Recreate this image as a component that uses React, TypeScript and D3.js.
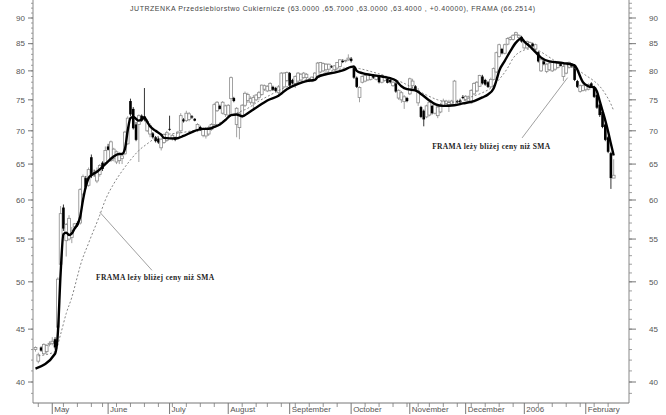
import React from "react";
import * as d3 from "d3";

const W = 666;
const H = 415;

const titleText =
  "JUTRZENKA Przedsiebiorstwo Cukiernicze (63.0000 ,65.7000 ,63.0000 ,63.4000 , +0.40000), FRAMA (66.2514)";
const noteText = "FRAMA leży bliżej ceny niż SMA";

const monthLabels = ["May", "June", "July", "August", "September", "October", "November", "December", "2006", "February"];
const yMajor = [40, 45, 50, 55, 60, 65, 70, 75, 80, 85, 90];
const yMinorFrom = 39;
const yMinorTo = 93;

const openP = [
  43.0, 41.9, 43.2, 42.6, 42.8, 43.5, 43.6, 44.0, 45.2, 52.0,
  59.0, 54.8, 55.0, 55.2, 56.5, 57.0, 57.0, 60.8, 63.0, 62.0,
  66.0, 63.8, 62.6, 63.5, 65.2, 65.2, 67.6, 65.5, 65.8, 65.3,
  65.5, 65.8, 66.5, 68.0, 74.8, 73.5, 71.0, 71.0, 72.4, 72.3,
  70.0, 69.5, 69.6, 69.0, 68.8, 67.4, 68.2, 68.5, 70.3, 68.8,
  69.0, 68.8, 70.0, 71.8, 71.6, 71.8, 72.3, 71.9, 70.0, 70.6,
  69.3, 69.2, 69.5, 70.2, 71.0, 73.2, 74.0, 72.8, 72.6, 72.5,
  75.2, 75.3, 71.0, 70.5, 72.4, 74.1, 74.9, 74.6, 74.5, 75.0,
  75.4, 75.9, 76.8, 76.5, 76.6, 77.2, 77.0, 76.2, 76.0, 77.2,
  78.3, 79.6, 78.4, 77.8, 78.2, 78.4, 78.8, 78.8, 78.4, 78.2,
  78.5, 78.8, 79.8, 80.0, 80.2, 80.3, 80.8, 80.2, 80.5, 80.8,
  81.8, 81.8, 82.0, 82.2, 80.5, 78.8, 75.4, 78.0, 78.2, 78.4,
  78.5, 79.2, 78.5, 79.0, 78.0, 78.3, 78.6, 78.4, 77.4, 77.8,
  75.3, 75.0, 74.7, 75.3, 76.0, 77.4, 77.3, 74.5, 73.8, 73.2,
  72.2, 72.5, 74.0, 72.8, 72.4, 73.0, 74.0, 74.4, 74.2, 74.3,
  74.2, 74.8, 74.9, 75.5, 75.0, 74.8, 74.5, 76.0, 76.5, 77.3,
  79.0, 78.4, 78.0, 77.2, 78.5, 79.8, 82.6, 84.0, 83.2, 84.9,
  85.8, 85.8, 86.7, 86.2, 86.3, 84.2, 84.2, 84.6, 85.0, 84.0,
  83.4, 80.0, 81.7, 79.9, 80.2, 80.0, 80.3, 80.6, 81.2, 79.0,
  79.6, 80.6, 81.2, 81.0, 78.2, 76.4, 76.6, 76.7, 76.8, 77.8,
  77.2, 75.8, 74.2, 73.0, 71.0, 69.0, 66.6, 63.0,
];
const highP = [
  43.3, 42.7, 43.3, 43.6, 43.5, 43.8, 44.2, 44.2, 50.5, 59.2,
  59.4, 57.0, 58.0, 56.5, 57.0, 57.2, 61.6, 63.5, 63.3, 64.5,
  66.4, 64.2, 64.5, 65.0, 65.4, 67.6, 68.0, 68.5, 67.4, 67.0,
  66.7, 66.5, 70.0, 72.3, 75.2, 73.8, 71.4, 72.6, 72.6, 77.0,
  71.8, 71.2, 69.8, 69.2, 69.0, 68.9, 69.6, 70.0, 72.4, 69.5,
  69.1, 70.0, 72.8, 72.0, 73.2, 73.0, 72.5, 72.0, 71.2, 70.8,
  70.5, 70.6, 70.8, 71.2, 74.5, 74.8, 74.2, 74.8, 74.2, 74.3,
  79.0, 75.5, 73.8, 73.0, 74.3, 76.4, 76.2, 75.6, 75.8, 76.0,
  76.5, 77.6, 77.6, 77.5, 78.0, 77.4, 77.2, 77.5, 79.8, 79.8,
  79.9, 79.8, 78.6, 79.2, 79.8, 79.6, 79.8, 79.6, 78.8, 79.0,
  79.8, 81.6, 81.6, 81.5, 81.4, 81.3, 81.0, 81.0, 81.6, 82.1,
  82.1, 82.0, 83.0, 82.5, 80.8, 79.0, 77.3, 79.2, 79.5, 79.4,
  79.5, 79.4, 79.2, 79.2, 79.4, 79.0, 78.8, 78.6, 78.2, 78.0,
  76.8, 76.5, 75.8, 75.5, 78.8, 78.6, 77.5, 77.0, 74.0, 73.4,
  74.2, 74.8, 74.2, 74.6, 74.0, 74.5, 75.2, 75.0, 75.0, 75.0,
  78.4, 75.0, 75.2, 75.8, 75.8, 75.7, 76.8, 78.0, 78.2, 79.3,
  79.3, 78.6, 78.2, 78.8, 80.6, 83.5, 85.0, 84.2, 85.0, 86.2,
  86.4, 86.8, 87.3, 86.8, 86.5, 85.6, 85.6, 85.4, 85.2, 85.0,
  83.6, 82.2, 82.0, 81.4, 81.6, 81.6, 81.8, 81.8, 81.4, 81.2,
  81.5, 81.7, 81.4, 81.2, 78.4, 77.6, 77.6, 77.8, 77.8, 78.0,
  77.4, 76.0, 74.4, 73.2, 71.2, 69.2, 66.8, 65.7,
];
const lowP = [
  42.8, 41.7, 42.8, 42.5, 42.6, 43.3, 43.4, 43.0, 45.0, 51.8,
  56.0, 52.9, 54.8, 54.5, 56.2, 56.5, 56.8, 60.5, 61.5, 61.8,
  63.0, 63.2, 62.3, 63.2, 64.0, 65.0, 67.0, 65.3, 65.4, 65.0,
  65.0, 65.0, 66.3, 67.8, 72.3, 70.2, 68.4, 65.3, 71.4, 71.5,
  69.8, 69.0, 68.8, 68.2, 68.0, 67.0, 68.0, 68.3, 70.0, 68.5,
  68.4, 68.6, 69.6, 71.3, 71.4, 71.5, 71.9, 71.5, 69.8, 70.0,
  69.0, 68.8, 69.2, 70.0, 70.8, 73.0, 73.4, 72.6, 72.2, 72.0,
  72.5, 74.6, 69.0, 68.7, 72.0, 73.8, 74.5, 74.2, 73.2, 74.8,
  75.0, 75.7, 76.5, 76.3, 76.4, 76.5, 76.3, 75.8, 75.8, 77.0,
  78.0, 77.2, 77.6, 77.0, 78.0, 78.2, 78.6, 78.0, 78.0, 78.0,
  78.2, 78.6, 79.6, 79.8, 79.5, 80.0, 80.5, 80.0, 80.2, 80.6,
  81.4, 81.5, 81.8, 81.5, 78.6, 77.0, 74.6, 77.8, 78.0, 78.2,
  78.3, 78.6, 78.3, 77.8, 77.8, 78.1, 77.8, 77.8, 77.2, 76.2,
  75.0, 74.5, 73.5, 74.6, 75.8, 77.0, 76.4, 74.0, 72.0, 70.7,
  72.0, 72.3, 72.6, 72.6, 72.0, 72.8, 73.8, 74.2, 73.0, 74.1,
  74.0, 74.4, 74.4, 75.1, 74.8, 74.6, 74.3, 75.8, 76.3, 77.2,
  77.6, 77.4, 77.0, 77.0, 78.3, 79.6, 82.4, 83.0, 83.0, 84.7,
  85.6, 85.6, 86.5, 85.8, 85.2, 84.0, 84.0, 84.3, 84.4, 83.7,
  81.5, 79.8, 81.0, 79.6, 80.0, 79.8, 80.0, 80.4, 80.8, 78.2,
  79.4, 80.4, 80.6, 78.2, 77.0, 76.2, 76.4, 76.4, 76.6, 77.0,
  75.3, 73.5, 72.2, 70.4, 68.4, 66.6, 61.5, 63.0,
];
const closeP = [
  43.2, 42.5, 42.9, 43.5, 43.4, 43.6, 43.8, 43.2, 50.3, 58.2,
  56.3, 56.8, 57.6, 56.0, 56.9, 56.7, 61.4, 63.2, 61.8, 64.2,
  63.4, 63.6, 64.0, 64.8, 64.3, 67.0, 67.1, 68.3, 67.2, 66.8,
  66.3, 66.2, 69.8, 72.0, 72.6, 70.4, 68.6, 72.4, 71.6, 71.8,
  71.5, 70.8, 69.0, 68.4, 68.2, 68.7, 69.4, 69.7, 70.2, 69.3,
  68.6, 69.8, 72.4, 71.5, 72.8, 72.7, 72.1, 71.6, 71.0, 70.1,
  70.3, 70.2, 70.5, 71.0, 74.2, 74.6, 73.5, 74.6, 74.0, 74.1,
  78.8, 74.8, 73.6, 72.8, 74.1, 76.1, 75.9, 75.2, 75.4, 75.8,
  76.2, 77.5, 77.4, 77.3, 77.8, 76.7, 76.5, 77.2, 79.6, 79.6,
  79.7, 77.4, 77.8, 79.0, 79.6, 79.4, 79.6, 79.4, 78.5, 78.9,
  79.6, 81.4, 81.5, 81.3, 81.2, 81.2, 80.7, 80.9, 81.5, 82.0,
  81.6, 81.9, 82.3, 81.8, 78.8, 77.2, 77.1, 79.0, 79.2, 79.3,
  79.3, 78.8, 79.0, 78.0, 79.2, 78.8, 77.9, 78.0, 78.0, 76.4,
  76.6, 76.2, 75.5, 74.8, 78.6, 78.2, 76.6, 76.5, 72.2, 71.8,
  74.0, 74.6, 72.8, 74.2, 73.8, 74.2, 74.8, 74.8, 74.6, 74.8,
  78.2, 74.6, 74.6, 75.3, 75.6, 75.5, 76.6, 77.8, 78.0, 79.2,
  77.8, 77.6, 77.2, 78.5, 80.4, 83.3, 84.8, 83.2, 84.8, 86.0,
  86.2, 86.6, 87.1, 86.6, 85.4, 85.4, 85.4, 85.2, 84.5, 84.8,
  81.7, 82.0, 81.2, 81.2, 81.4, 81.5, 81.6, 81.6, 80.9, 80.8,
  81.3, 81.5, 80.8, 78.4, 77.2, 77.4, 77.4, 77.6, 77.6, 77.2,
  75.5, 73.7, 72.5, 70.6, 68.6, 66.8, 63.0, 63.4,
];

const framaIdx = [
  0, 7, 8, 9, 10, 11, 12, 13, 14, 15, 16, 17, 18, 19, 20, 22, 24, 26, 28, 30,
  31, 32, 33, 34, 35, 37, 38, 39, 40, 41, 43, 45, 46, 50, 53, 56, 60, 62, 64, 66,
  68, 70, 72, 74, 76, 78, 80, 83, 87, 90, 94, 97, 100, 101, 104, 107, 110, 113, 114, 115,
  117, 120, 124, 127, 129, 131, 133, 136, 138, 141, 143, 146, 150, 153, 157, 160, 162, 164, 165, 166,
  168, 170, 172, 174, 175, 177, 179, 181, 184, 189, 193, 194, 195, 196, 198, 200, 201, 202, 203, 204,
  205, 206, 207,
];
const framaVal = [
  41.2, 42.6, 44.6, 51.0, 55.6, 55.8, 55.5, 55.7, 56.3, 56.8, 57.8, 60.0, 61.8, 63.0, 63.4, 63.9, 64.6, 65.4, 66.1, 66.5,
  66.5, 67.2, 70.0, 72.0, 72.2, 71.6, 71.8, 72.1, 71.4, 70.7, 70.0, 69.4, 68.9, 68.8, 69.2, 69.8, 70.3, 70.3, 70.6, 71.0,
  71.7, 72.5, 72.6, 72.3, 72.8, 73.4, 74.0, 74.9, 75.7, 76.8, 77.7, 78.2, 78.4, 78.9, 79.4, 79.7, 80.1, 80.7, 80.8, 80.0,
  79.6, 79.3, 79.0, 78.7, 78.3, 77.3, 76.8, 76.6, 76.0, 74.9, 74.3, 74.0, 74.1, 74.4, 74.8, 75.4, 75.9, 76.9, 78.3, 80.0,
  81.8, 83.6, 85.2, 86.0, 85.4, 84.5, 83.4, 82.4, 81.7, 81.4, 81.0, 80.2, 79.0, 78.0, 77.3, 77.1, 76.4, 74.8, 73.2, 71.6,
  69.9, 68.0, 66.25,
];

const smaIdx = [
  1, 7, 9, 11, 13, 15, 16, 19, 23, 25, 28, 31, 34, 37, 40, 43, 45, 48, 52, 56,
  60, 64, 68, 72, 76, 80, 84, 88, 92, 96, 100, 104, 108, 112, 116, 120, 124, 128, 132, 136,
  140, 144, 148, 152, 156, 160, 163, 166, 169, 171, 174, 177, 180, 183, 186, 190, 194, 197, 200, 202,
  204, 206, 207,
];
const smaVal = [
  42.4, 42.8, 44.5, 46.6, 48.3, 50.6, 51.8, 54.5, 58.0, 60.0, 62.2, 64.0, 65.6, 67.0, 68.0, 68.9, 69.3, 69.5, 69.7, 70.0,
  70.3, 70.8, 71.8, 72.8, 73.6, 74.8, 75.8, 76.8, 77.6, 78.3, 78.9, 79.7, 80.2, 80.6, 80.4, 79.9, 79.3, 78.6, 77.8, 76.8,
  75.8, 75.0, 74.6, 74.7, 75.5, 76.2, 77.0, 78.5, 80.5, 82.3, 83.6, 84.0, 83.7, 82.8, 81.8, 81.0, 80.2, 79.2, 78.2, 77.3,
  76.0, 74.3, 73.2,
];

// annotation anchors in data space: [index, price]
const notePointer = [
  { from: [23, 58.4], to: [41.7, 51.3], text: [21.7, 50.2] },
  { from: [190.5, 78.8], to: [174.2, 68.9], text: [142, 67.2] },
];

const holidays = new Set(["2005-05-03", "2005-05-26", "2005-08-15", "2005-11-01", "2005-11-11", "2005-12-26"]);

function tradingDays(): Date[] {
  const out: Date[] = [];
  let t = Date.UTC(2005, 3, 22);
  const end = Date.UTC(2006, 1, 15);
  while (t <= end) {
    const d = new Date(t);
    const wd = d.getUTCDay();
    const key = d.toISOString().slice(0, 10);
    if (wd !== 0 && wd !== 6 && !holidays.has(key)) out.push(d);
    t += 86400000;
  }
  return out;
}

export default function App() {
  const days = tradingDays();
  const n = closeP.length;
  const xs = d3.scaleLinear().domain([0, n - 1]).range([35.5, 613.7]);
  const ys = d3.scaleLog().domain([40, 90]).range([382, 18]);

  const axisLeft = 33;
  const axisRight = 629;
  const axisBottom = 403;

  const monthStarts: number[] = [];
  const weekStarts: number[] = [];
  for (let i = 1; i < days.length; i++) {
    if (days[i].getUTCMonth() !== days[i - 1].getUTCMonth()) monthStarts.push(i);
    else if (days[i].getUTCDay() < days[i - 1].getUTCDay()) weekStarts.push(i);
  }

  const line = d3
    .line<[number, number]>()
    .x((d) => xs(d[0]))
    .y((d) => ys(d[1]))
    .curve(d3.curveMonotoneX);
  const framaPath = line(framaIdx.map((v, k) => [v, framaVal[k]] as [number, number])) || "";
  const smaPath = line(smaIdx.map((v, k) => [v, smaVal[k]] as [number, number])) || "";

  const minorVals = d3.range(yMinorFrom, yMinorTo + 1);
  const font = "'Liberation Sans', Arial, sans-serif";

  return (
    <svg width={W} height={H} style={{ position: "absolute", left: 0, top: 0, background: "#fff" }}>
      <rect x={0} y={0} width={W} height={H} fill="#fff" />
      <text x={130} y={11} fontSize={7} fontFamily={font} fill="#444" textLength={405} lengthAdjust="spacing">
        {titleText}
      </text>

      {/* axes */}
      <line x1={axisLeft} y1={0} x2={axisLeft} y2={axisBottom} stroke="#888" strokeWidth={1} />
      <line x1={axisRight} y1={0} x2={axisRight} y2={axisBottom} stroke="#888" strokeWidth={1} />
      <line x1={axisLeft} y1={axisBottom} x2={axisRight} y2={axisBottom} stroke="#777" strokeWidth={1} />

      {minorVals.map((v) => (
        <g key={"m" + v}>
          <line x1={axisLeft - 2} x2={axisLeft} y1={ys(v)} y2={ys(v)} stroke="#888" strokeWidth={0.8} />
          <line x1={axisRight} x2={axisRight + 3} y1={ys(v)} y2={ys(v)} stroke="#888" strokeWidth={0.8} />
        </g>
      ))}
      {yMajor.map((v) => (
        <g key={"M" + v}>
          <line x1={axisLeft - 5} x2={axisLeft} y1={ys(v)} y2={ys(v)} stroke="#777" strokeWidth={1} />
          <line x1={axisRight} x2={axisRight + 7} y1={ys(v)} y2={ys(v)} stroke="#777" strokeWidth={1} />
          <text x={25} y={ys(v)} dy="0.35em" textAnchor="end" fontSize={8} fontFamily={font} fill="#555">
            {v}
          </text>
          <text x={649} y={ys(v)} dy="0.35em" fontSize={8} fontFamily={font} fill="#555">
            {v}
          </text>
        </g>
      ))}

      {weekStarts.map((i) => (
        <line key={"w" + i} x1={xs(i)} x2={xs(i)} y1={axisBottom} y2={axisBottom + 4} stroke="#777" strokeWidth={0.8} />
      ))}
      {monthStarts.map((i, k) => (
        <g key={"mo" + i}>
          <line x1={xs(i)} x2={xs(i)} y1={axisBottom} y2={axisBottom + 11} stroke="#777" strokeWidth={1} />
          <text x={xs(i) + 2} y={axisBottom + 9} fontSize={8} fontFamily={font} fill="#555">
            {monthLabels[k]}
          </text>
        </g>
      ))}

      {/* candles */}
      {closeP.map((c, i) => {
        const o = openP[i];
        const down = c < o;
        const x = xs(i);
        const yTop = ys(Math.max(o, c));
        const yBot = ys(Math.min(o, c));
        const h = Math.max(0.8, yBot - yTop);
        const col = down ? "#000" : "#8a8a8a";
        return (
          <g key={"c" + i}>
            <line x1={x} x2={x} y1={ys(highP[i])} y2={ys(lowP[i])} stroke={col} strokeWidth={0.8} />
            {down ? (
              <rect x={x - 1.3} y={yTop} width={2.6} height={h} fill="#000" />
            ) : (
              <rect x={x - 1.4} y={yTop} width={2.8} height={h} fill="#fff" stroke="#8a8a8a" strokeWidth={0.8} />
            )}
          </g>
        );
      })}

      <path d={smaPath} fill="none" stroke="#666" strokeWidth={0.8} strokeDasharray="2,2" />
      <path d={framaPath} fill="none" stroke="#000" strokeWidth={2.4} strokeLinejoin="round" />

      {notePointer.map((a, k) => (
        <g key={"n" + k}>
          <line
            x1={xs(a.from[0])}
            y1={ys(a.from[1])}
            x2={xs(a.to[0])}
            y2={ys(a.to[1])}
            stroke="#888"
            strokeWidth={0.8}
          />
          <text
            x={xs(a.text[0])}
            y={ys(a.text[1])}
            fontSize={7.5}
            fontWeight="bold"
            fontFamily="'Liberation Serif', 'Times New Roman', serif"
            fill="#222"
            textLength={118}
            lengthAdjust="spacing"
          >
            {noteText}
          </text>
        </g>
      ))}
    </svg>
  );
}
